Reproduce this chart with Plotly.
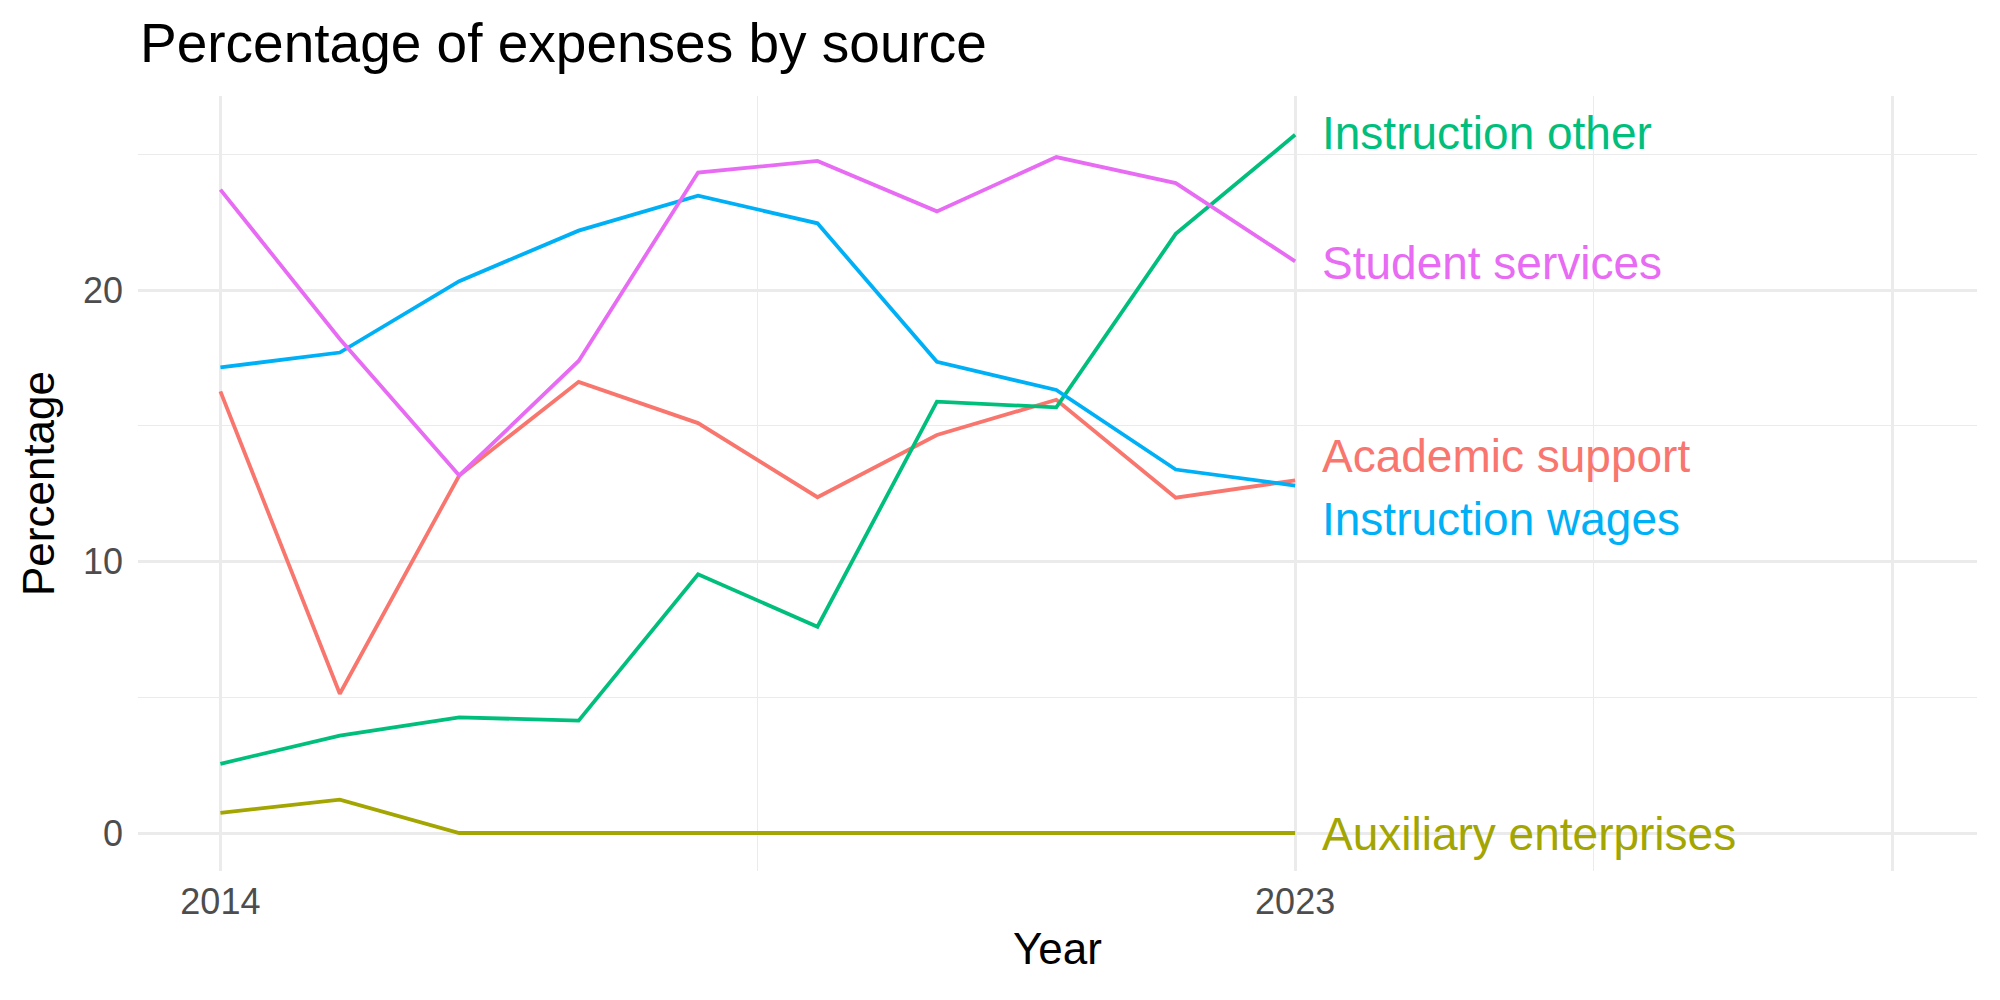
import plotly.graph_objects as go

years = [2014, 2015, 2016, 2017, 2018, 2019, 2020, 2021, 2022, 2023]

academic_support = [16.27, 5.13, 13.17, 16.62, 15.10, 12.37, 14.66, 15.96, 12.35, 12.99]
auxiliary_enterprises = [0.74, 1.23, 0.0, 0.0, 0.0, 0.0, 0.0, 0.0, 0.0, 0.0]
instruction_other = [2.55, 3.59, 4.26, 4.14, 9.53, 7.60, 15.89, 15.68, 22.07, 25.72]
instruction_wages = [17.15, 17.70, 20.33, 22.19, 23.48, 22.46, 17.36, 16.32, 13.39, 12.80]
student_services = [23.70, 18.20, 13.17, 17.39, 24.33, 24.76, 22.90, 24.90, 23.94, 21.06]

series_names = ["Academic support", "Auxiliary enterprises", "Instruction other",
                "Instruction wages", "Student services"]
series_values = [academic_support, auxiliary_enterprises, instruction_other,
                 instruction_wages, student_services]
colors = ["#F8766D", "#A3A500", "#00BF7D", "#00B0F6", "#E76BF3"]
# label repel adjustments (in y units) relative to final value
label_shift = [0.9, -0.05, 0.05, -1.25, -0.05]

x_ticks = [2014, 2023, 2028]
x_ticktext = ["2014", "2023", ""]
x_minor = [2018.5, 2025.5]
y_ticks = [0, 10, 20]
y_minor = [5, 15, 25]

FONT = "Liberation Sans, Arial, Helvetica, sans-serif"

fig = go.Figure()
for name, vals, col in zip(series_names, series_values, colors):
    fig.add_trace(go.Scatter(x=years, y=vals, mode="lines", name=name,
                             line=dict(color=col, width=3.8), showlegend=False))

for name, vals, col, sh in zip(series_names, series_values, colors, label_shift):
    fig.add_annotation(x=years[-1] + 0.21, y=vals[-1] + sh, xref="x", yref="y",
                       text=name, showarrow=False, xanchor="left", yanchor="middle",
                       font=dict(family=FONT, size=46, color=col))

fig.update_layout(
    width=2000, height=1000,
    margin=dict(l=138, r=23, t=96, b=129),
    paper_bgcolor="white", plot_bgcolor="white",
    title=dict(text="Percentage of expenses by source", x=140 / 2000, xanchor="left",
               y=1 - 43 / 1000, yanchor="middle",
               font=dict(family=FONT, size=55, color="black")),
    xaxis=dict(range=[2013.31, 2028.71], tickvals=x_ticks, ticktext=x_ticktext,
               showgrid=True, gridcolor="#EBEBEB", gridwidth=2.6, zeroline=False,
               showline=False, ticks="", ticklabelstandoff=6,
               tickfont=dict(family=FONT, size=36, color="#4D4D4D"),
               minor=dict(tickvals=x_minor, showgrid=True, gridcolor="#EBEBEB", gridwidth=1.3),
               title=dict(text="Year", font=dict(family=FONT, size=44, color="black"), standoff=12)),
    yaxis=dict(range=[-1.40, 27.15], tickvals=y_ticks,
               showgrid=True, gridcolor="#EBEBEB", gridwidth=2.6, zeroline=False,
               showline=False, ticks="", ticklabelstandoff=14,
               tickfont=dict(family=FONT, size=36, color="#4D4D4D"),
               minor=dict(tickvals=y_minor, showgrid=True, gridcolor="#EBEBEB", gridwidth=1.3),
               title=dict(text="Percentage", font=dict(family=FONT, size=44, color="black"), standoff=14)),
)

fig.write_html("out.html")
